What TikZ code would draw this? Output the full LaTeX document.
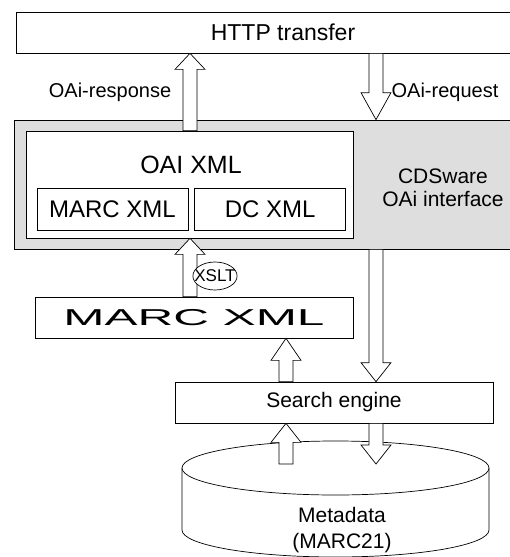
\documentclass[tikz,border=0pt]{standalone}
\usepackage{fontspec}
\setmainfont{Liberation Sans}
\usetikzlibrary{calc,shapes.geometric,positioning}

% hollow block arrow: [head length]{start}{tip}
\newcommand{\fatarrow}[3][18]{%
\draw[fatarrow] let \p1=#2, \p2=#3, \p3=($#3!#1pt!#2$) in
(\x1-7pt,\y1) -- (\x1-7pt,\y3) -- (\x1-15pt,\y3) -- (\x2,\y2)
-- (\x1+15pt,\y3) -- (\x1+7pt,\y3) -- (\x1+7pt,\y1) -- cycle;}

\begin{document}
\begin{tikzpicture}[x=1pt,y=-1pt,shape=rectangle,line width=0.7pt,
box/.style={draw,fill=white,inner sep=0pt,minimum height=41pt},
txt/.style={inner sep=0pt,font=\fontsize{#1pt}{#1pt}\selectfont},
fatarrow/.style={draw,fill=white,line join=miter}]
\useasboundingbox (0,0) rectangle (510,557);

\coordinate (colResp) at (190,0);
\coordinate (colReq) at (376,0);
\coordinate (colSearch) at (286,0);

\node (httpTransfer) [box, minimum width=534pt, txt=23] at (283,32.5)
{HTTP transfer};
\node (oaiBox) [draw, fill=black!13, minimum width=536pt,
minimum height=129pt] at (282,184.5) {};
\node (oaiXml) [box, minimum width=327pt, minimum height=107pt]
at (189.5,184.5) {};
\node (oaiTitle) [txt=25] at (191,165) {OAI XML};
\node (marcInner) [box, minimum width=151pt, minimum height=42pt, txt=24]
at (112.5,209) {MARC XML};
\node (dcXml) [box, minimum width=151pt, minimum height=42pt, txt=24,
right=6pt of marcInner] {DC XML};
\node (cdsLabel) [txt=21, align=center,
font=\fontsize{21pt}{23pt}\selectfont] at (443,188)
{CDSware\\OAi interface};

\node (marcXml) [box, minimum width=318pt, txt=23] at (194,317.5)
{\scalebox{2.15}[1]{MARC XML}};
\node (searchEngine) [box, minimum width=318pt, txt=21] at (334,402.5)
{Search engine};

% database
\draw[fill=white] (182,468) -- (182,530)
arc[start angle=180, end angle=0, x radius=153.5, y radius=27]
-- (489,468);
\draw[fill=white] (335.5,468) ellipse [x radius=153.5, y radius=27];
\coordinate (dbTop) at (335.5,464);
\node (metaData) [align=center, inner sep=0pt,
font=\fontsize{21pt}{26pt}\selectfont] at (342,530)
{Metadata\\(MARC21)};

\fatarrow[16]{(colResp |- oaiXml.north)}{(colResp |- httpTransfer.south)}
\fatarrow[27]{(colReq |- httpTransfer.south)}{(colReq |- oaiBox.north)}
\fatarrow[16]{(colResp |- marcXml.north)}{(colResp |- oaiXml.south)}
\fatarrow[19]{(colReq |- oaiBox.south)}{(colReq |- searchEngine.north)}
\fatarrow[22]{(colSearch |- searchEngine.north)}{(colSearch |- marcXml.south)}
\fatarrow[19]{(colSearch |- dbTop)}{(colSearch |- searchEngine.south)}
\fatarrow[19]{(colReq |- searchEngine.south)}{(colReq |- dbTop)}

\node (xslt) [draw, fill=white, shape=ellipse, inner xsep=-5pt,
inner ysep=0pt, minimum height=28pt,
font=\fontsize{17pt}{17pt}\selectfont] at (215,276) {XSLT};

\node (respLabel) [txt=20] at (110,92) {OAi-response};
\node (reqLabel) [txt=20] at (445,92) {OAi-request};
\end{tikzpicture}
\end{document}
